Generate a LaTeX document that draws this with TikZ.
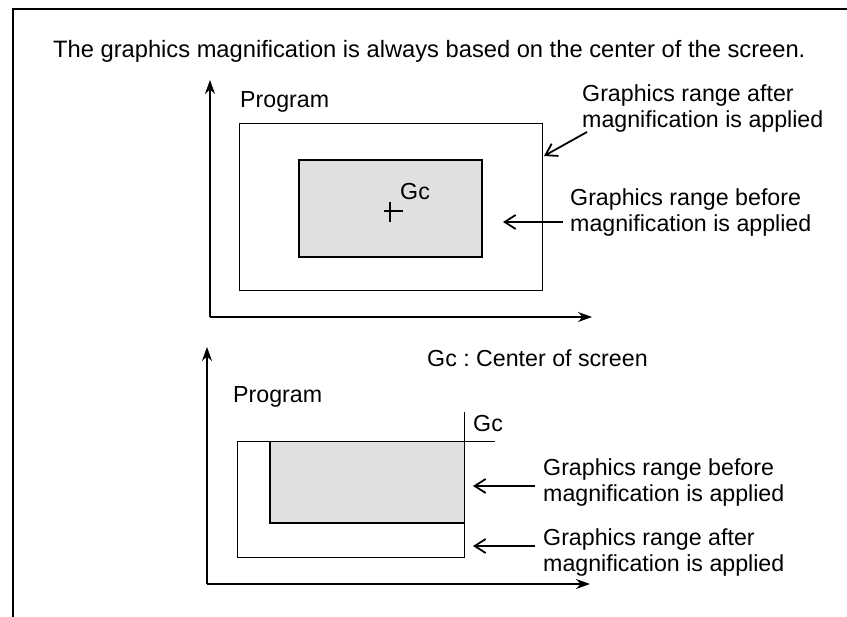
\documentclass[tikz,border=0pt]{standalone}
\usepackage{fontspec}
\setmainfont{Liberation Sans}
\usetikzlibrary{arrows.meta,calc}
\frenchspacing
\tikzset{
  lbl/.style={inner sep=0pt, font=\fontsize{23.2}{25.5}\selectfont, align=left, anchor=base west},
  headlbl/.style={lbl, font=\fontsize{23.7}{26}\selectfont},
  axis/.style={line width=1.4pt, -{Stealth[length=14pt,width=10pt]}},
  pointer/.style={line width=1.8pt, -{Straight Barb[length=11pt,width=14pt,line width=1.8pt]}},
  outerbox/.style={line width=1pt},
  innerbox/.style={line width=2pt, fill=black!12},
  frame/.style={line width=2pt}
}
\begin{document}
\begin{tikzpicture}[x=1pt,y=-1pt]
\useasboundingbox (0,0) rectangle (847,617);
% frame
\draw[frame] (12.5,617) -- (12.5,9.5) -- (847,9.5);
% header
\node[headlbl] (head) at (53,58) {The graphics magnification is always based on the center of the screen.};

% ---------- top diagram ----------
\coordinate (o1) at (210,317);
\coordinate (y1) at (210,80);
\coordinate (x1) at (592,317);
\draw[axis] (o1) -- (y1);
\draw[axis] (o1) -- (x1);
\draw[outerbox] (239,124) rectangle (542,291);
\draw[innerbox] (299,160) rectangle (482,257);
\coordinate (gcA) at (390,211);
\draw[line width=1.3pt] ($(gcA)+(-6,0)$) -- ($(gcA)+(13,0)$);
\draw[line width=1.3pt] ($(gcA)+(0,-9)$) -- ($(gcA)+(0,11)$);
\node[lbl] (gc1) at (400,200) {Gc};
\node[lbl] (prog1) at (240,108) {Program};
% multi-line labels: base = baseline of the last line
\node[lbl] (after1) at (582,127.5) {Graphics range after\\magnification is applied};
\node[lbl] (before1) at (570,231.5) {Graphics range before\\magnification is applied};
\coordinate (a1s) at (587,132);
\coordinate (a1e) at (544,156);
\coordinate (b1s) at (563,222);
\coordinate (b1e) at (503,222);
\draw[pointer] (a1s) -- (a1e);
\draw[pointer] (b1s) -- (b1e);

% ---------- bottom diagram ----------
\node[lbl] (legend) at (427,367) {Gc : Center of screen};
\coordinate (o2) at (207,584);
\coordinate (y2) at (207,347);
\coordinate (x2) at (590,584);
\draw[axis] (o2) -- (y2);
\draw[axis] (o2) -- (x2);
\fill[black!12] (270,442) rectangle (464,523);
\draw[outerbox] (495,442) -- (237,442) -- (237,558) -- (464,558) -- (464,412);
\draw[line width=2pt] (270,442) -- (270,523) -- (464,523);
\node[lbl] (gc2) at (473,432) {Gc};
\node[lbl] (prog2) at (233,403) {Program};
\node[lbl] (before2) at (543,501.5) {Graphics range before\\magnification is applied};
\node[lbl] (after2) at (543,571.5) {Graphics range after\\magnification is applied};
\coordinate (b2s) at (535,486);
\coordinate (b2e) at (473,486);
\coordinate (a2s) at (535,546);
\coordinate (a2e) at (473,546);
\draw[pointer] (b2s) -- (b2e);
\draw[pointer] (a2s) -- (a2e);
\end{tikzpicture}
\end{document}
